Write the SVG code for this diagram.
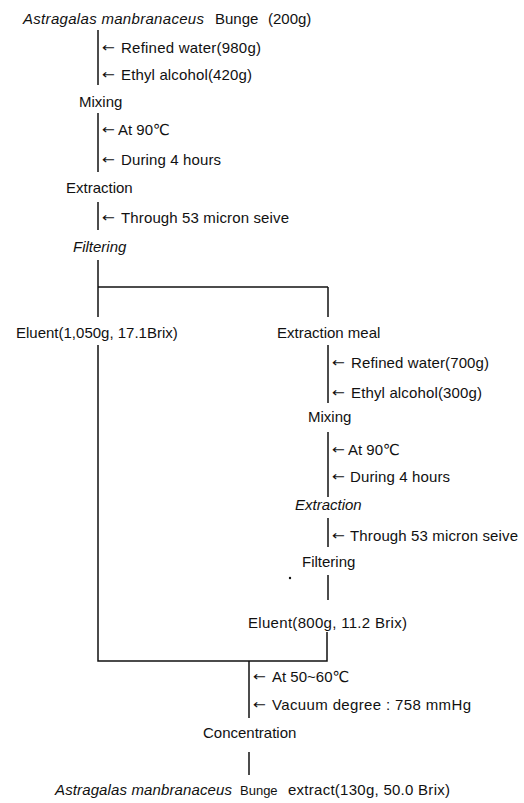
<svg xmlns="http://www.w3.org/2000/svg" width="524" height="803" viewBox="0 0 524 803">
<style>
text{font-family:"Liberation Sans",Arial,"DejaVu Sans",sans-serif;font-size:15px;fill:#111}
.it{font-style:italic}
.sm{font-size:13px}
.ar{font-family:"DejaVu Sans",sans-serif;font-size:13px}
line,polyline{stroke:#111;stroke-width:1.5;fill:none}
</style>
<defs>
<text id="arr" class="ar" textLength="13" lengthAdjust="spacingAndGlyphs">←</text>
</defs>
<rect width="524" height="803" fill="#fff"/>
<g id="connectors">
<line x1="98" y1="30" x2="98" y2="85"/>
<line x1="98" y1="113" x2="98" y2="172"/>
<line x1="98" y1="202" x2="98" y2="230"/>
<line x1="98" y1="260" x2="98" y2="317"/>
<polyline points="98,345 98,661 327,661 327,632"/>
<line x1="98" y1="287" x2="328" y2="287"/>
<line x1="328" y1="287" x2="328" y2="317"/>
<line x1="328" y1="345" x2="328" y2="403"/>
<line x1="328" y1="432" x2="328" y2="497"/>
<line x1="328" y1="518" x2="328" y2="547"/>
<line x1="328" y1="575" x2="328" y2="600"/>
<line x1="249" y1="661" x2="249" y2="718"/>
<line x1="249" y1="752" x2="249" y2="775"/>
<circle cx="290" cy="578" r="1.2" fill="#111"/>
</g>
<g id="n-title"><text class="it" x="23" y="24" textLength="181">Astragalas manbranaceus</text><text x="215" y="24">Bunge</text><text x="268" y="24">(200g)</text></g>
<g id="n-water1"><use href="#arr" x="102" y="52"/><text x="121" y="53" textLength="140">Refined water(980g)</text></g>
<g id="n-alc1"><use href="#arr" x="102" y="79"/><text x="121" y="80" textLength="131">Ethyl alcohol(420g)</text></g>
<g id="n-mix1"><text x="79" y="107">Mixing</text></g>
<g id="n-temp1"><use href="#arr" x="102" y="134"/><text x="118" y="135">At 90℃</text></g>
<g id="n-time1"><use href="#arr" x="102" y="164"/><text x="121" y="165" textLength="100">During 4 hours</text></g>
<g id="n-ext1"><text x="66" y="193">Extraction</text></g>
<g id="n-sieve1"><use href="#arr" x="102" y="222"/><text x="121" y="223" textLength="168">Through 53 micron seive</text></g>
<g id="n-filt1"><text class="it" x="73" y="252">Filtering</text></g>
<g id="n-eluent1"><text x="16" y="338">Eluent(1,050g, 17.1Brix)</text></g>
<g id="n-meal"><text x="277" y="338">Extraction meal</text></g>
<g id="n-water2"><use href="#arr" x="332" y="367"/><text x="351" y="368" textLength="138">Refined water(700g)</text></g>
<g id="n-alc2"><use href="#arr" x="332" y="397"/><text x="351" y="398" textLength="131">Ethyl alcohol(300g)</text></g>
<g id="n-mix2"><text x="308" y="422">Mixing</text></g>
<g id="n-temp2"><use href="#arr" x="332" y="454"/><text x="348" y="455">At 90℃</text></g>
<g id="n-time2"><use href="#arr" x="332" y="481"/><text x="350" y="482" textLength="100">During 4 hours</text></g>
<g id="n-ext2"><text class="it" x="295" y="510">Extraction</text></g>
<g id="n-sieve2"><use href="#arr" x="332" y="540"/><text x="350" y="541" textLength="168">Through 53 micron seive</text></g>
<g id="n-filt2"><text x="302" y="567">Filtering</text></g>
<g id="n-eluent2"><text x="248" y="628" textLength="159">Eluent(800g, 11.2 Brix)</text></g>
<g id="n-temp3"><use href="#arr" x="253" y="681"/><text x="272" y="682">At 50~60℃</text></g>
<g id="n-vac"><use href="#arr" x="253" y="709"/><text x="272" y="710" textLength="199">Vacuum degree : 758 mmHg</text></g>
<g id="n-conc"><text x="203" y="738">Concentration</text></g>
<g id="n-final"><text class="it" x="55" y="795" textLength="177">Astragalas manbranaceus</text><text class="sm" x="240" y="795">Bunge</text><text x="288" y="795" textLength="162">extract(130g, 50.0 Brix)</text></g>
</svg>
